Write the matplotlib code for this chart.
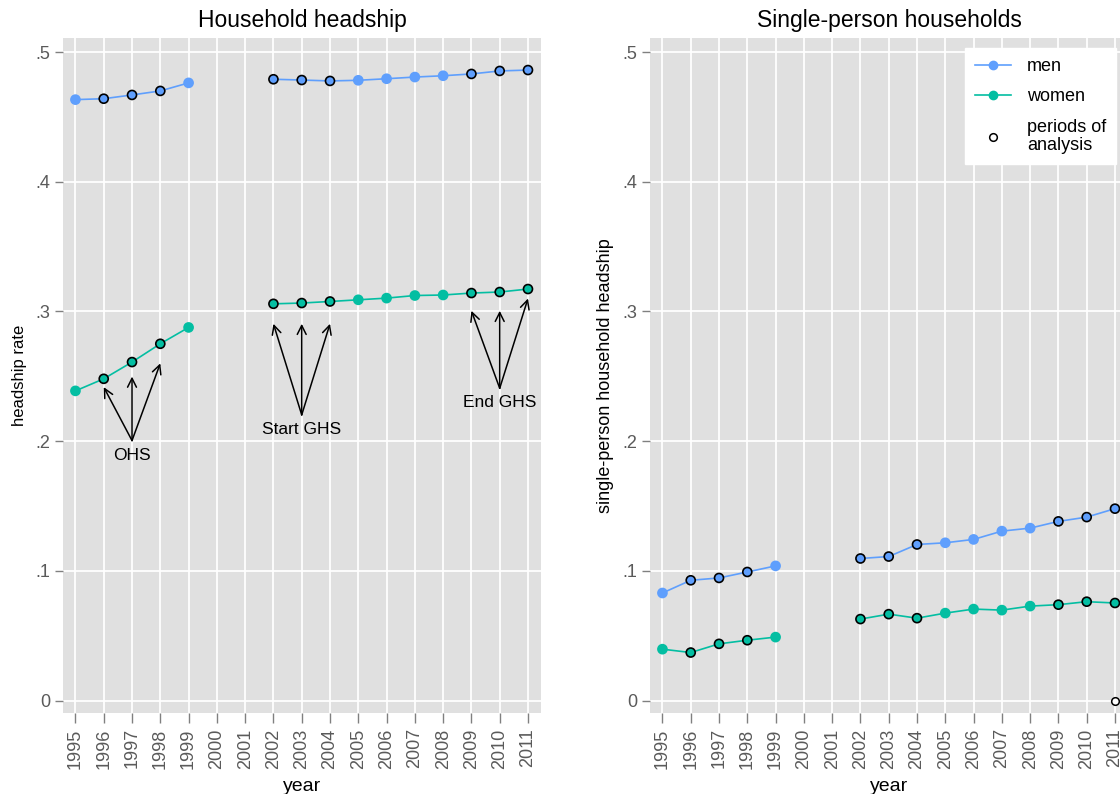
import numpy as np
import matplotlib.pyplot as plt
from matplotlib.lines import Line2D

plt.rcParams['font.family'] = ['Liberation Sans', 'DejaVu Sans']

years = np.arange(1995, 2012)
nan = np.nan

# household headship rate
head_men = [0.4633, 0.4640, 0.4669, 0.4700, 0.4762, nan, nan,
            0.4790, 0.4784, 0.4777, 0.4782, 0.4794, 0.4807, 0.4817, 0.4831, 0.4854, 0.4861]
head_women = [0.2388, 0.2481, 0.2610, 0.2751, 0.2877, nan, nan,
              0.3059, 0.3065, 0.3077, 0.3090, 0.3103, 0.3123, 0.3127, 0.3142, 0.3150, 0.3173]

# single-person household headship
single_men = [0.0830, 0.0928, 0.0946, 0.0992, 0.1039, nan, nan,
              0.1096, 0.1111, 0.1204, 0.1217, 0.1243, 0.1307, 0.1330, 0.1382, 0.1415, 0.1480]
single_women = [0.0397, 0.0371, 0.0438, 0.0466, 0.0490, nan, nan,
                0.0629, 0.0667, 0.0636, 0.0675, 0.0706, 0.0698, 0.0729, 0.0740, 0.0763, 0.0753]

# years used in the analysis (black outline)
periods = [1996, 1997, 1998, 2002, 2003, 2004, 2009, 2010, 2011]

# annotation arrows: label, tail (x, y), tips
notes = [
    ('OHS', (1997, 0.2005), [(1996, 0.2417), (1997, 0.2498), (1998, 0.2600)]),
    ('Start GHS', (2003, 0.2203), [(2002, 0.2905), (2003, 0.2905), (2004, 0.2905)]),
    ('End GHS', (2010, 0.2408), [(2009, 0.3005), (2010, 0.3005), (2011, 0.3100)]),
]

c_men = '#5f9ffd'
c_women = '#03bea2'
bg = '#e0e0e0'
tick_grey = '#5a5a5a'

fig = plt.figure(figsize=(11.2, 7.94), dpi=100)
ax1 = fig.add_axes([63 / 1120, 1 - 713 / 794, 478 / 1120, 675 / 794])
ax2 = fig.add_axes([650 / 1120, 1 - 713 / 794, 478 / 1120, 675 / 794])


def draw_series(ax, vals, col):
    vals = np.array(vals)
    ax.plot(years, vals, color=col, lw=1.2, zorder=3)
    edge = ['black' if y in periods else col for y in years]
    ok = ~np.isnan(vals)
    ax.scatter(years[ok], vals[ok], s=42, c=col,
               edgecolors=np.array(edge)[ok], linewidths=1.2, zorder=4)


for ax in (ax1, ax2):
    ax.set_facecolor(bg)
    for s in ax.spines.values():
        s.set_visible(False)
    ax.set_xlim(1994.56, 2011.46)
    ax.set_ylim(-0.0095, 0.5108)
    ax.set_xticks(years)
    ax.set_xticklabels([str(y) for y in years], rotation=90)
    ax.set_yticks([0, 0.1, 0.2, 0.3, 0.4, 0.5])
    ax.set_yticklabels(['0', '.1', '.2', '.3', '.4', '.5'])
    ax.grid(True, color='white', lw=1.3)
    ax.set_axisbelow(True)
    ax.tick_params(axis='x', length=7, width=1, color='#808080', labelcolor=tick_grey,
                   labelsize=13, pad=4)
    ax.tick_params(axis='y', length=6, width=1, color='#808080', labelcolor=tick_grey,
                   labelsize=13, pad=3)
    ax.set_xlabel('year', fontsize=14, labelpad=7)

draw_series(ax1, head_men, c_men)
draw_series(ax1, head_women, c_women)
ax1.set_title('Household headship', fontsize=16.5, pad=8)
ax1.set_ylabel('headship rate', fontsize=12, labelpad=6)

for label, tail, tips in notes:
    for tip in tips:
        ax1.annotate('', xy=tip, xytext=tail,
                     arrowprops=dict(arrowstyle='->', color='black', lw=1.1,
                                     shrinkA=0, shrinkB=0, mutation_scale=16))
    ax1.text(tail[0], tail[1] - 0.0112, label, ha='center', va='center', fontsize=12.5)

draw_series(ax2, single_men, c_men)
draw_series(ax2, single_women, c_women)
ax2.scatter([2011], [0], s=30, facecolors='white', edgecolors='black',
            linewidths=1.1, zorder=4)
ax2.set_title('Single-person households', fontsize=16.5, pad=8)
ax2.set_ylabel('single-person household headship', fontsize=13, labelpad=6)

handles = [
    Line2D([], [], color=c_men, lw=1.2, marker='o', markersize=6),
    Line2D([], [], color=c_women, lw=1.2, marker='o', markersize=6),
    Line2D([], [], ls='none', marker='o', markersize=5.5, markerfacecolor='white',
           markeredgecolor='black', markeredgewidth=1.1),
]
leg = fig.legend(handles, ['men', 'women', 'periods of\nanalysis'],
                 loc='upper left', bbox_to_anchor=(965 / 1120, 1 - 48 / 794),
                 borderaxespad=0, frameon=True, fancybox=False, fontsize=13,
                 handlelength=2.0, labelspacing=0.75, borderpad=0.55,
                 handletextpad=0.9)
leg.get_frame().set_facecolor('white')
leg.get_frame().set_edgecolor('white')
leg.get_frame().set_alpha(1)
for t in leg.get_texts():
    t.set_linespacing(1.05)

fig.savefig('out.png', dpi=100)
